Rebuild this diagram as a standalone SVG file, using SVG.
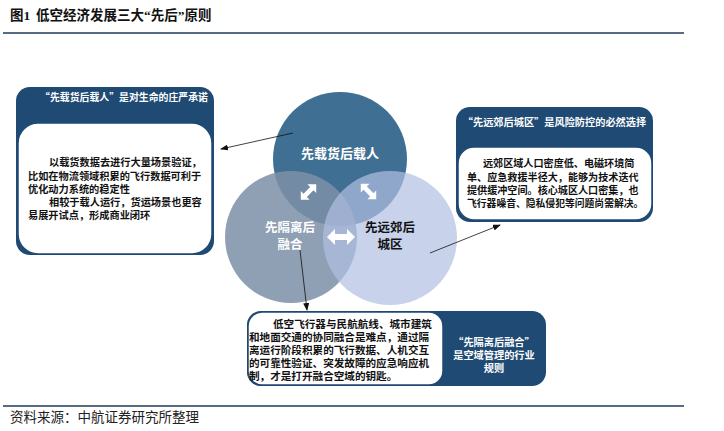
<svg xmlns="http://www.w3.org/2000/svg" width="724" height="431" viewBox="0 0 724 431">
<style>
.t{font-family:"Noto Sans CJK SC","Liberation Sans",sans-serif;font-weight:bold;}
.body{font-size:10.2px;fill:#111;}
.hdr{font-size:10.2px;fill:#fff;text-anchor:middle;}
.dark{fill:#1f4a74;}
.inner{fill:#fff;stroke:#1f4a74;stroke-width:1.5;}
.rule{stroke:#1f3b5a;stroke-width:1.5;}
.conn{stroke:#111;stroke-width:0.8;fill:none;marker-end:url(#ah);}
</style>
<defs>
<marker id="ah" markerWidth="8" markerHeight="6" refX="7" refY="3" orient="auto" markerUnits="userSpaceOnUse">
<path d="M0,0 L8,3 L0,6 Z" fill="#111"/>
</marker>
<path id="dbl" d="M-14,0 L-6,-8 L-6,-3 L6,-3 L6,-8 L14,0 L6,8 L6,3 L-6,3 L-6,8 Z" fill="#fff"/>
</defs>
<rect width="724" height="431" fill="#fff"/>
<g id="title">
<text x="10" y="20" class="t" style="font-family:'Liberation Serif','Noto Sans CJK SC',serif;font-size:13.5px;fill:#111;">图1<tspan x="36">低空经济发展三大“先后”原则</tspan></text>
<line x1="3" y1="33" x2="684" y2="33" class="rule"/>
</g>
<g id="venn">
<circle cx="340" cy="159" r="67" fill="#3f7093"/>
<circle cx="291" cy="237" r="66" fill="#7c8fa7" fill-opacity="0.85"/>
<circle cx="390" cy="238" r="67" fill="#b0bfe3" fill-opacity="0.7"/>
<use href="#dbl" transform="translate(308.5,192) rotate(-45) scale(0.78)"/>
<use href="#dbl" transform="translate(368.5,191.5) rotate(45) scale(0.78)"/>
<use href="#dbl" transform="translate(341,237)"/>
</g>
<g id="node-top">
<text x="340" y="157.5" class="t" style="font-size:13px;fill:#fff;text-anchor:middle;">先载货后载人</text>
</g>
<g id="node-left">
<text x="290" y="231.5" class="t" style="font-size:12.5px;fill:#fff;text-anchor:middle;">先隔离后</text>
<text x="290" y="248.5" class="t" style="font-size:12.5px;fill:#fff;text-anchor:middle;">融合</text>
</g>
<g id="node-right">
<text x="390" y="231.5" class="t" style="font-size:12.5px;fill:#111;text-anchor:middle;">先远郊后</text>
<text x="390" y="248.5" class="t" style="font-size:12.5px;fill:#111;text-anchor:middle;">城区</text>
</g>
<g id="box-left">
<rect x="16" y="87" width="198" height="168" rx="14" class="dark"/>
<rect x="18" y="123" width="194" height="131" rx="20" class="inner"/>
<text x="124" y="101" class="t hdr" style="font-size:9.9px;">“先载货后载人”是对生命的庄严承诺</text>
<text x="49" y="166" class="t body">以载货数据去进行大量场景验证，</text>
<text x="28" y="179.5" class="t body">比如在物流领域积累的飞行数据可利于</text>
<text x="28" y="192.5" class="t body">优化动力系统的稳定性</text>
<text x="49" y="206" class="t body">相较于载人运行，货运场景也更容</text>
<text x="28" y="219" class="t body">易展开试点，形成商业闭环</text>
</g>
<g id="box-right">
<rect x="456" y="107" width="197" height="115" rx="14" class="dark"/>
<rect x="458" y="147" width="194" height="73" rx="16" class="inner"/>
<text x="554.5" y="125.5" class="t hdr">“先远郊后城区”是风险防控的必然选择</text>
<text x="483" y="167" class="t body" style="font-size:10.1px;">远郊区域人口密度低、电磁环境简</text>
<text x="467" y="180.5" class="t body" style="font-size:10.1px;">单、应急救援半径大，能够为技术迭代</text>
<text x="467" y="193.5" class="t body" style="font-size:10.1px;">提供缓冲空间。核心城区人口密集，也</text>
<text x="467" y="206.5" class="t body" style="font-size:9.8px;">飞行器噪音、隐私侵犯等问题尚需解决。</text>
</g>
<g id="box-bottom">
<rect x="247" y="311" width="299" height="75" rx="14" class="dark"/>
<rect x="248" y="312" width="195" height="73" rx="14" class="inner"/>
<text x="273" y="328" class="t body" style="font-size:10.6px;">低空飞行器与民航航线、城市建筑</text>
<text x="249" y="341" class="t body" style="font-size:10.6px;">和地面交通的协同融合是难点，通过隔</text>
<text x="249" y="354" class="t body" style="font-size:10.6px;">离运行阶段积累的飞行数据、人机交互</text>
<text x="249" y="367" class="t body" style="font-size:10.6px;">的可靠性验证、突发故障的应急响应机</text>
<text x="249" y="379.5" class="t body" style="font-size:10.6px;">制，才是打开融合空域的钥匙。</text>
<text x="494" y="346" class="t hdr">“先隔离后融合”</text>
<text x="494" y="359" class="t hdr">是空域管理的行业</text>
<text x="494" y="371.5" class="t hdr">规则</text>
</g>
<g id="connectors">
<line x1="293" y1="133" x2="221" y2="149" class="conn"/>
<line x1="430" y1="253" x2="500" y2="225" class="conn"/>
<line x1="300" y1="250" x2="307" y2="310" class="conn"/>
</g>
<g id="footer">
<line x1="3" y1="406" x2="684" y2="406" class="rule"/>
<text x="10" y="422" style="font-family:'Liberation Serif','Noto Sans CJK SC',serif;font-size:13.5px;fill:#222;">资料来源：中航证券研究所整理</text>
</g>
</svg>
